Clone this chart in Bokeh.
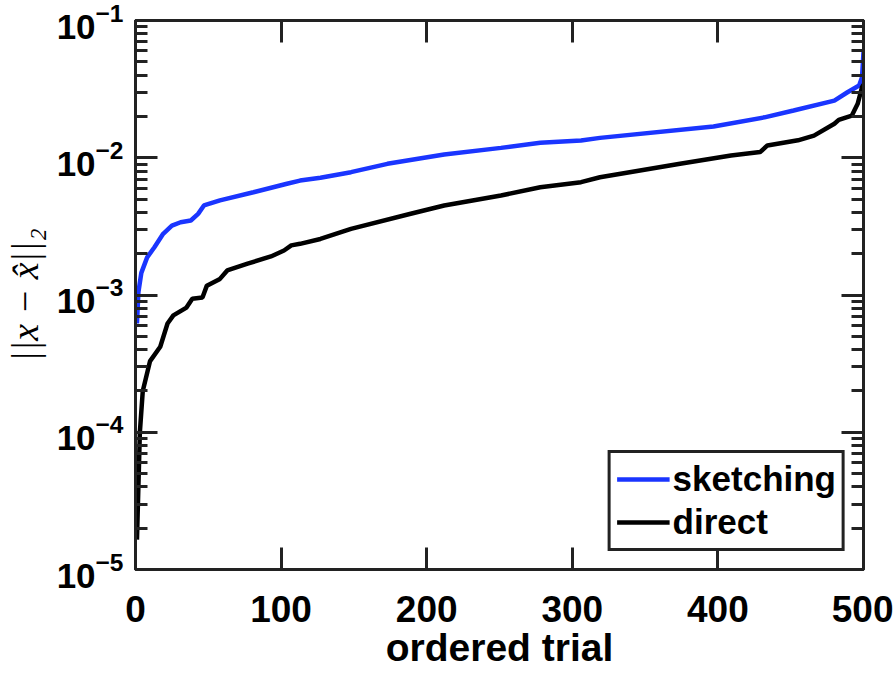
from bokeh.plotting import figure
from bokeh.models import LinearAxis, FixedTicker, Legend, LegendItem, CustomJSTickFormatter
from bokeh.embed import file_html
from bokeh.resources import INLINE

# ---- data ----
sketch_x = [1, 2, 4, 8, 13, 19, 25, 31, 38, 43, 47, 58, 81, 104, 113, 127, 148, 173,
            212, 251, 278, 306, 319, 397, 432, 452, 480, 489, 497, 499, 500]
sketch_y = [6.2e-4, 1.05e-3, 1.45e-3, 1.88e-3, 2.23e-3, 2.79e-3, 3.2e-3, 3.39e-3, 3.49e-3,
            3.9e-3, 4.49e-3, 4.89e-3, 5.61e-3, 6.46e-3, 6.82e-3, 7.14e-3, 7.85e-3, 9.03e-3,
            1.057e-2, 1.18e-2, 1.285e-2, 1.337e-2, 1.396e-2, 1.69e-2, 1.97e-2, 2.21e-2,
            2.61e-2, 3.0e-2, 3.36e-2, 3.86e-2, 5.87e-2]

direct_x = [1, 3, 5, 10, 17, 22, 26, 35, 39, 46, 49, 58, 63, 77, 93, 102, 107, 113, 127,
            148, 189, 212, 251, 278, 306, 319, 374, 409, 429, 434, 455, 466, 480, 483,
            492, 496, 499, 500]
direct_y = [1.65e-5, 1.0e-4, 2.0e-4, 3.3e-4, 4.2e-4, 6.2e-4, 7.1e-4, 8.1e-4, 9.4e-4, 9.6e-4,
            1.17e-3, 1.31e-3, 1.51e-3, 1.69e-3, 1.91e-3, 2.11e-3, 2.30e-3, 2.36e-3, 2.56e-3,
            3.03e-3, 3.91e-3, 4.49e-3, 5.31e-3, 6.10e-3, 6.64e-3, 7.21e-3, 9.04e-3, 1.04e-2,
            1.10e-2, 1.23e-2, 1.34e-2, 1.45e-2, 1.77e-2, 1.89e-2, 2.03e-2, 2.47e-2, 3.27e-2,
            3.4e-2]

x_ticks = [0, 100, 200, 300, 400, 500]
y_ticks = [1e-5, 1e-4, 1e-3, 1e-2, 1e-1]
y_minor = [m * 10.0 ** e for e in range(-5, -1) for m in range(2, 10)]

series_names = ["sketching", "direct"]
series_colors = ["#1a35ff", "#000000"]

AX = "#222222"
FONT = "Liberation Sans"

p = figure(width=893, height=675, x_range=(0, 500), y_range=(1e-5, 1e-1),
           y_axis_type="log", output_backend="svg", toolbar_location=None,
           min_border_left=135, min_border_right=30, min_border_top=20,
           min_border_bottom=106)
p.grid.visible = False
p.outline_line_color = AX
p.outline_line_width = 3
p.background_fill_color = "white"
p.border_fill_color = "white"

r1 = p.line(sketch_x, sketch_y, line_color=series_colors[0], line_width=4.5)
r2 = p.line(direct_x, direct_y, line_color=series_colors[1], line_width=4.5)


def style_axis(ax):
    ax.axis_line_color = AX
    ax.axis_line_width = 3
    ax.major_tick_line_color = AX
    ax.major_tick_line_width = 3
    ax.minor_tick_line_color = AX
    ax.minor_tick_line_width = 3
    ax.major_tick_in = 22
    ax.major_tick_out = 0
    ax.minor_tick_in = 12
    ax.minor_tick_out = 0
    ax.major_label_text_font = FONT
    ax.major_label_text_font_style = "bold"
    ax.major_label_text_color = "black"


xa = p.xaxis[0]
xa.ticker = FixedTicker(ticks=x_ticks)
style_axis(xa)
xa.major_label_text_font_size = "37px"
xa.major_label_standoff = 26
xa.axis_label = "ordered trial"
xa.axis_label_text_font = FONT
xa.axis_label_text_font_style = "bold"
xa.axis_label_text_font_size = "39px"
xa.axis_label_text_color = "black"
xa.axis_label_standoff = 1

ya = p.yaxis[0]
ya.ticker = FixedTicker(ticks=y_ticks, minor_ticks=y_minor)
style_axis(ya)
ya.major_label_text_font_size = "35px"
ya.major_label_standoff = 12
ya.axis_label = "||x − x̂||₂"
ya.axis_label_text_font = "Liberation Serif"
ya.axis_label_text_font_style = "italic"
ya.axis_label_text_font_size = "38px"
ya.axis_label_text_color = "black"
ya.axis_label_standoff = 8

blank = CustomJSTickFormatter(code="return ''")
top = LinearAxis(ticker=FixedTicker(ticks=x_ticks), formatter=blank)
style_axis(top)
top.major_label_text_font_size = "0px"
top.major_label_standoff = 0
p.add_layout(top, "above")

right = LinearAxis(ticker=FixedTicker(ticks=y_ticks, minor_ticks=y_minor), formatter=blank)
style_axis(right)
right.major_label_text_font_size = "0px"
right.major_label_standoff = 0
p.add_layout(right, "right")

legend = Legend(items=[LegendItem(label=series_names[0], renderers=[r1]),
                       LegendItem(label=series_names[1], renderers=[r2])],
                location="bottom_right", margin=18, padding=6, spacing=3,
                glyph_width=53, glyph_height=40, label_height=40, label_standoff=3,
                label_text_font=FONT, label_text_font_style="bold",
                label_text_font_size="35px", label_text_color="black",
                border_line_color=AX, border_line_width=3, border_line_alpha=1.0,
                background_fill_color="white", background_fill_alpha=1.0)
p.add_layout(legend)

open("out.html", "w").write(file_html(p, INLINE))
